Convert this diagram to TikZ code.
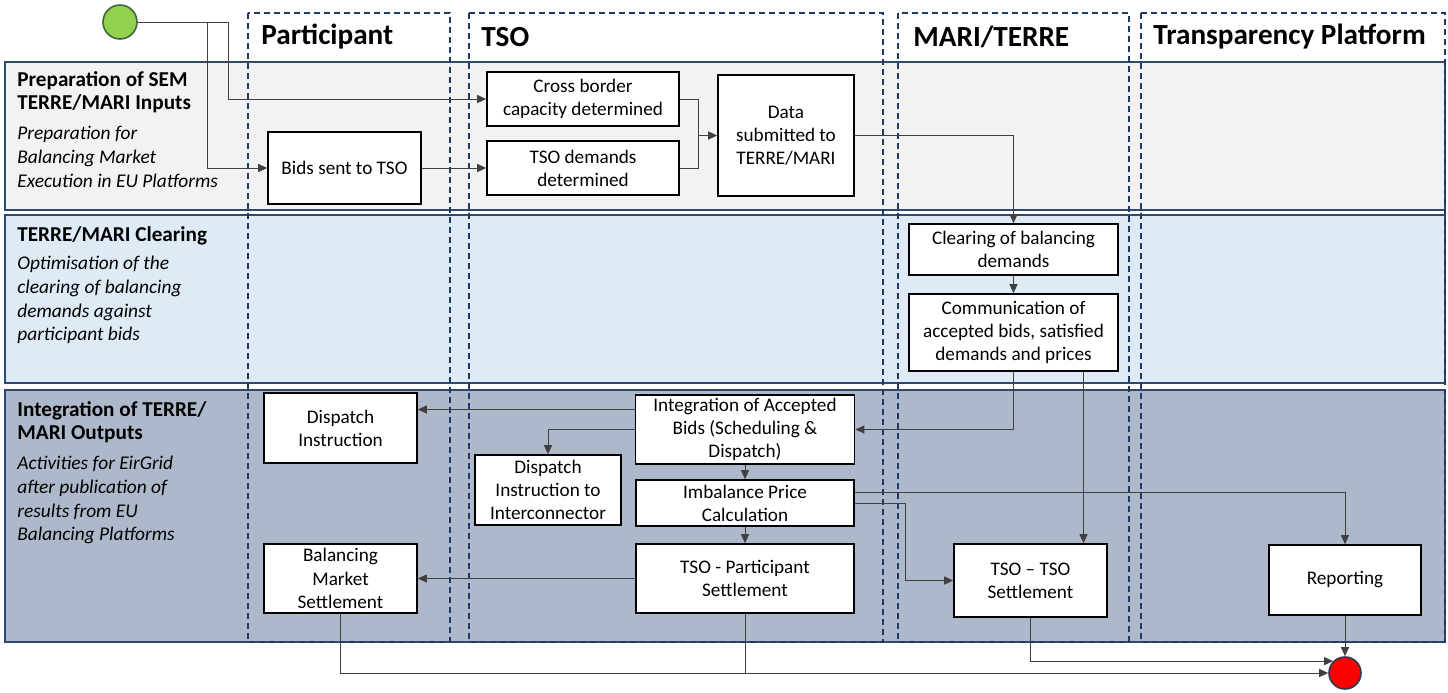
\documentclass[tikz,border=0pt]{standalone}
\usepackage{fontspec}
\setmainfont{Carlito}
\usetikzlibrary{shapes, arrows, arrows.meta, positioning}
\definecolor{lanecol}{HTML}{1F3864}
\definecolor{bandline}{HTML}{2F4A6E}
\definecolor{prepfill}{HTML}{F2F2F2}
\definecolor{clearfill}{HTML}{DEEAF6}
\definecolor{integfill}{HTML}{ADB9CA}
\definecolor{linecol}{HTML}{404040}
\definecolor{startgreen}{HTML}{92D050}
\definecolor{startline}{HTML}{41673A}
\definecolor{endline}{HTML}{2F3B4E}
\tikzstyle{process} = [rectangle, draw=black, line width=0.8pt, fill=white, align=center, inner xsep=2pt, inner ysep=0pt, font=\fontsize{9.6}{11.6}\selectfont]
\tikzstyle{band} = [draw=bandline, line width=0.9pt]
\tikzstyle{lane} = [draw=lanecol, line width=0.6pt, dash pattern=on 3pt off 2pt]
\tikzstyle{lanetitle} = [anchor=west, inner sep=0pt, font=\fontsize{14.6}{16}\selectfont\bfseries]
\tikzstyle{bandtitle} = [anchor=north west, align=left, inner sep=0pt, font=\fontsize{10.6}{11.8}\selectfont\bfseries]
\tikzstyle{bandnote} = [anchor=north west, align=left, inner sep=0pt, font=\fontsize{9.7}{11.8}\selectfont\itshape]
\tikzstyle{arrow} = [line width=0.5pt, draw=linecol, -{Triangle[length=4.5pt,width=4pt]}]
\tikzstyle{line} = [line width=0.5pt, draw=linecol]

\begin{document}
\begin{tikzpicture}[x=0.5pt, y=-0.5pt, node distance=1cm]
    \useasboundingbox (0,0) rectangle (1448,692);
    % swim bands
    \draw [band, fill=prepfill] (5,62) rectangle (1445,210);
    \draw [band, fill=clearfill] (5,215) rectangle (1445,383);
    \draw [band, fill=integfill] (5,390) rectangle (1445,642);
    \node (preptitle) [bandtitle] at (17,71) {Preparation of SEM\\TERRE/MARI Inputs};
    \node (prepnote) [bandnote] at (17,126) {Preparation for\\Balancing Market\\Execution in EU Platforms};
    \node (cleartitle) [bandtitle] at (17,226) {TERRE/MARI Clearing};
    \node (clearnote) [bandnote] at (17,256) {Optimisation of the\\clearing of balancing\\demands against\\participant bids};
    \node (integtitle) [bandtitle] at (17,401) {Integration of TERRE/\\MARI Outputs};
    \node (integnote) [bandnote] at (17,456) {Activities for EirGrid\\after publication of\\results from EU\\Balancing Platforms};
    % lanes
    \draw [lane] (248,13) rectangle (450,642);
    \draw [lane] (469,13) rectangle (883,642);
    \draw [lane] (898,13) rectangle (1129,642);
    \draw [lane] (1141,13) rectangle (1445,642);
    \node (partlane) [lanetitle] at (261,37) {Participant};
    \node (tsolane) [lanetitle] at (481,37) {TSO};
    \node (marilane) [lanetitle] at (913,37) {MARI/TERRE};
    \node (translane) [lanetitle] at (1153,37) {Transparency Platform};

    \node (start) [circle, draw=startline, line width=0.8pt, fill=startgreen, minimum size=17pt, inner sep=0pt] at (120,22) {};
    \node (end) [circle, draw=endline, line width=0.8pt, fill=red, minimum size=16pt, inner sep=0pt] at (1345,673) {};

    \node (bids) [process, minimum width=76.5pt, minimum height=36pt] at (344.5,168) {Bids sent to TSO};
    \node (cross) [process, minimum width=96pt, minimum height=27pt] at (583,99) {Cross border\\capacity determined};
    \node (tsodem) [process, minimum width=96pt, minimum height=27pt, below of=cross, node distance=34.5pt] {TSO demands\\determined};
    \node (data) [process, minimum width=68pt, minimum height=60.5pt] at (786,135.5) {Data\\submitted to\\TERRE/MARI};
    \node (clearing) [process, minimum width=104.5pt, minimum height=25.5pt] at (1013.5,249.5) {Clearing of balancing\\demands};
    \node (comm) [process, minimum width=104.5pt, minimum height=38.5pt, below of=clearing, node distance=41.5pt] {Communication of\\accepted bids, satisfied\\demands and prices};
    \node (dispatch) [process, minimum width=76.5pt, minimum height=35pt] at (340.5,428) {Dispatch\\Instruction};
    \node (integ) [process, minimum width=109.5pt, minimum height=34.5pt] at (745,429.5) {Integration of Accepted\\Bids (Scheduling \&\\Dispatch)};
    \node (dispic) [process, minimum width=73pt, minimum height=35pt] at (548,490) {Dispatch\\Instruction to\\Interconnector};
    \node (imb) [process, minimum width=109pt, minimum height=23pt] at (745,503) {Imbalance Price\\Calculation};
    \node (tsopart) [process, minimum width=109pt, minimum height=34.5pt] at (745,578.5) {TSO - Participant\\Settlement};
    \node (bms) [process, minimum width=76.5pt, minimum height=34.5pt] at (340.5,578.5) {Balancing\\Market\\Settlement};
    \node (tsotso) [process, minimum width=76.5pt, minimum height=36.5pt] at (1030.5,580.5) {TSO -- TSO\\Settlement};
    \node (report) [process, minimum width=76pt, minimum height=35pt] at (1345,580) {Reporting};

    \coordinate (merge) at (698,135.5);
    \coordinate (commout) at ([xshift=35pt]comm.south);
    \coordinate (integtop) at ([yshift=10pt]integ.west);
    \coordinate (imbhi) at ([yshift=5.5pt]imb.east);

    \draw [arrow] (start.east) -- ++(91,0) |- (cross.west);
    \draw [arrow] (start.east) -- ++(70,0) |- (bids.west);
    \draw [arrow] (bids) -- (tsodem);
    \draw [line] (cross.east) -| (merge);
    \draw [line] (tsodem.east) -| (merge);
    \draw [arrow] (merge) -- (data.west);
    \draw [arrow] (data.east) -| (clearing.north);
    \draw [arrow] (clearing) -- (comm);
    \draw [arrow] (comm.south) |- (integ.east);
    \draw [arrow] (commout) -- (commout |- tsotso.north);
    \draw [arrow] (integtop) -- (integtop -| dispatch.east);
    \draw [arrow] (integ.west) -| (dispic.north);
    \draw [arrow] (integ) -- (imb);
    \draw [arrow] (imb) -- (tsopart);
    \draw [arrow] (imbhi) -| (report.north);
    \draw [arrow] (imb.east) -- ++(51,0) |- (tsotso.west);
    \draw [arrow] (tsopart.west) -- (bms.east);
    \draw [arrow] (bms.south) |- (end.west);
    \draw [line] (tsopart.south) -- (tsopart.south |- end.west);
    \draw [arrow] (tsotso.south) |- (end.north west);
    \draw [arrow] (report.south) -- (end.north);
\end{tikzpicture}
\end{document}
